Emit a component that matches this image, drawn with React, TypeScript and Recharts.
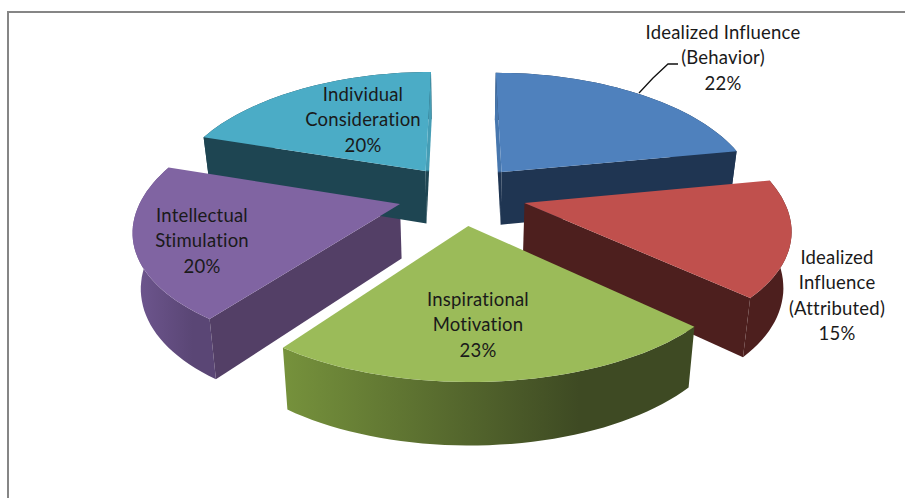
import React from 'react';
import { PieChart, Pie } from 'recharts';

const categories = [
  'Idealized Influence (Behavior)',
  'Idealized Influence (Attributed)',
  'Inspirational Motivation',
  'Intellectual Stimulation',
  'Individual Consideration',
];
const shares = [22, 15, 23, 20, 20];

const labelLines = [
  ['Idealized Influence', '(Behavior)'],
  ['Idealized', 'Influence', '(Attributed)'],
  ['Inspirational', 'Motivation'],
  ['Intellectual', 'Stimulation'],
  ['Individual', 'Consideration'],
];

const topColors = ['#4f81bd', '#c0504d', '#9bbb59', '#8064a2', '#4bacc6'];
const faceColors = ['#1f3552', '#4d1f1e', '#3e4a23', '#533f66', '#1e4552'];
const sliverColors = ['#4777ae', '#b04a47', '#8dab50', '#745b94', '#459db5'];
const rimStops = [
  ['#1f3552', '#1f3552'],
  ['#4d1f1e', '#4d1f1e'],
  ['#76923c', '#3e4a23'],
  ['#6f5790', '#5a4675'],
  ['#1e4552', '#1e4552'],
];

// centre x and first baseline of each label block
const labelAnchors = [
  [723, 39],
  [837, 264],
  [478, 306],
  [202, 222],
  [363, 101],
];
const leaderLine = 'M639 93L653 78L668 64L678 64';

const pieData = categories.map((name, i) => ({ name, value: shares[i] }));

const WIDTH = 905;
const HEIGHT = 498;
const CENTER_X = 462;
const CENTER_Y = 194.6;
const RADIUS = 121;
const X_STRETCH = 257 / 121;
const PERSPECTIVE_X = 0.18;
const PERSPECTIVE_Y = 0.155;
const EXPLODE = 0.25;
const DEPTH = 54;
const BASE_SHRINK = 0.975;

type Pt = [number, number];

// pie-plane coordinates (radius 1, v pointing away from the viewer) to screen
const project = (cx: number, cy: number, r: number, u: number, v: number, lower: boolean): Pt => {
  const x = (r * X_STRETCH * u) / (1 + PERSPECTIVE_X * v);
  const y = (-r * v) / (1 + PERSPECTIVE_Y * v);
  if (!lower) return [cx + x, cy + y];
  return [cx + x * BASE_SHRINK, cy + y + DEPTH / (1 + 0.12 * v)];
};

const toPath = (pts: Pt[]) =>
  pts.map((p, i) => `${i ? 'L' : 'M'}${p[0].toFixed(1)} ${p[1].toFixed(1)}`).join('') + 'Z';

const area = (pts: Pt[]) =>
  pts.reduce((sum, p, i) => {
    const q = pts[(i + 1) % pts.length];
    return sum + p[0] * q[1] - q[0] * p[1];
  }, 0);

// exploded wedge outline, both for the top face and the lower edge
const wedge = (props: any) => {
  const { cx, cy, outerRadius: r, startAngle, endAngle } = props;
  const from = ((90 - startAngle) * Math.PI) / 180;
  const to = ((90 - endAngle) * Math.PI) / 180;
  const mid = (from + to) / 2;
  const ox = Math.sin(mid) * EXPLODE;
  const oy = Math.cos(mid) * EXPLODE;
  const steps = Math.max(8, Math.ceil(((to - from) * 180) / Math.PI / 2));
  const ring = (lower: boolean) => {
    const pts: Pt[] = [];
    for (let s = 0; s <= steps; s++) {
      const t = from + ((to - from) * s) / steps;
      pts.push(project(cx, cy, r, ox + Math.sin(t), oy + Math.cos(t), lower));
    }
    return pts;
  };
  return {
    apexTop: project(cx, cy, r, ox, oy, false),
    apexLow: project(cx, cy, r, ox, oy, true),
    top: ring(false),
    low: ring(true),
  };
};

const WallShape = (props: any) => {
  const i = props.index ?? categories.indexOf(props.name);
  const { apexTop, apexLow, top, low } = wedge(props);
  const last = top.length - 1;
  const startFace: Pt[] = [apexTop, top[0], low[0], apexLow];
  const endFace: Pt[] = [apexTop, top[last], low[last], apexLow];
  const rimId = `rim-${i}`;
  const sliverId = `sliver-${i}`;
  // nearly edge-on radial faces catch some light above the apex
  const faceFill = (corner: Pt) =>
    Math.abs(corner[0] - apexTop[0]) < 20 ? `url(#${sliverId})` : faceColors[i];
  return (
    <g>
      <defs>
        <linearGradient id={rimId} x1="0" y1="0" x2="1" y2="0">
          <stop offset="0" stopColor={rimStops[i][0]} />
          <stop offset="0.72" stopColor={rimStops[i][1]} />
        </linearGradient>
        <linearGradient id={sliverId} gradientUnits="userSpaceOnUse" x1="0" y1={apexTop[1] - 1} x2="0" y2={apexTop[1] + 1}>
          <stop offset="0" stopColor={sliverColors[i]} />
          <stop offset="1" stopColor={faceColors[i]} />
        </linearGradient>
      </defs>
      <path d={toPath([...top, ...[...low].reverse()])} fill={`url(#${rimId})`} />
      {area(startFace) < 0 && <path d={toPath(startFace)} fill={faceFill(top[0])} />}
      {area(endFace) > 0 && <path d={toPath(endFace)} fill={faceFill(top[last])} />}
    </g>
  );
};

const TopShape = (props: any) => {
  const i = props.index ?? categories.indexOf(props.name);
  const { apexTop, top } = wedge(props);
  return <path d={toPath([apexTop, ...top])} fill={topColors[i]} />;
};

const SliceLabel = (props: any) => {
  const i = props.index;
  const [x, y] = labelAnchors[i];
  const lines = [...labelLines[i], `${shares[i]}%`];
  return (
    <g>
      {i === 0 && <path d={leaderLine} fill="none" stroke="#111" strokeWidth={1.3} />}
      <text x={x} y={y} textAnchor="middle" fontFamily="Lato" fontSize={18.5} letterSpacing={0.2} fill="#1a1a1a">
        {lines.map((line, n) => (
          <tspan key={n} x={x} dy={n ? 25.3 : 0}>
            {line}
          </tspan>
        ))}
      </text>
    </g>
  );
};

export default function App() {
  return (
    <div style={{ position: 'absolute', left: 0, top: 0, width: WIDTH, height: HEIGHT, overflow: 'hidden', background: '#fff' }}>
      <div
        style={{
          position: 'absolute',
          left: 7,
          top: 11,
          right: 0,
          bottom: 0,
          borderLeft: '2px solid #868686',
          borderTop: '2px solid #868686',
        }}
      />
      <PieChart width={WIDTH} height={HEIGHT} margin={{ top: 0, right: 0, bottom: 0, left: 0 }} style={{ position: 'absolute', left: 0, top: 0 }}>
        <Pie
          data={pieData}
          dataKey="value"
          nameKey="name"
          cx={CENTER_X}
          cy={CENTER_Y}
          outerRadius={RADIUS}
          startAngle={90}
          endAngle={-270}
          stroke="none"
          shape={WallShape}
          isAnimationActive={false}
        />
        <Pie
          data={pieData}
          dataKey="value"
          nameKey="name"
          cx={CENTER_X}
          cy={CENTER_Y}
          outerRadius={RADIUS}
          startAngle={90}
          endAngle={-270}
          stroke="none"
          shape={TopShape}
          label={SliceLabel}
          labelLine={false}
          isAnimationActive={false}
        />
      </PieChart>
    </div>
  );
}
